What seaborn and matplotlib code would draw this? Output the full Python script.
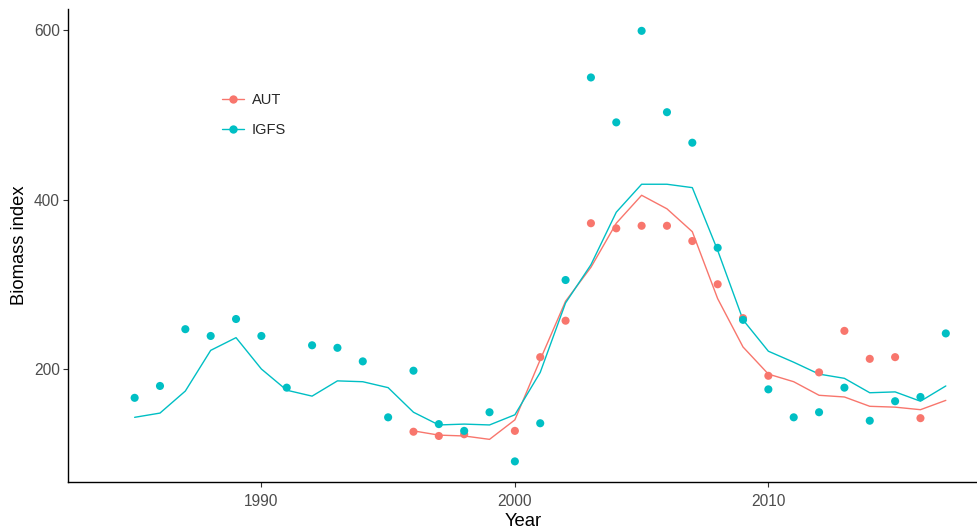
import numpy as np
import pandas as pd
import matplotlib
matplotlib.use("Agg")
import matplotlib.pyplot as plt
from matplotlib.lines import Line2D
import seaborn as sns

# Survey years
years = list(range(1985, 2018))

# IGFS (spring survey) observed biomass index and model fit
igfs_obs = [166, 180, 247, 239, 259, 239, 178, 228, 225, 209, 143, 198, 135, 127,
            149, 91, 136, 305, 544, 491, 599, 503, 467, 343, 258, 176, 143, 149,
            178, 139, 162, 167, 242]
igfs_fit = [143, 148, 174, 222, 237, 200, 175, 168, 186, 185, 178, 149, 134, 135,
            134, 146, 196, 278, 323, 385, 418, 418, 414, 340, 258, 221, 208, 194,
            189, 172, 173, 162, 180]

# AUT (autumn survey) starts in 1996; no survey in 2011, none shown for 2017
aut_years = list(range(1996, 2018))
aut_obs = [126, 121, 123, np.nan, 127, 214, 257, 372, 366, 369, 369, 351, 300, 260,
           192, np.nan, 196, 245, 212, 214, 142, np.nan]
aut_fit = [127, 122, 121, 117, 140, 211, 280, 320, 372, 405, 389, 362, 283, 226,
           194, 185, 169, 167, 156, 155, 152, 163]

surveys = ["AUT", "IGFS"]
palette = {"AUT": "#F8766D", "IGFS": "#00BFC4"}

df = pd.concat([
    pd.DataFrame({"Year": aut_years, "obs": aut_obs, "fit": aut_fit, "survey": "AUT"}),
    pd.DataFrame({"Year": years, "obs": igfs_obs, "fit": igfs_fit, "survey": "IGFS"}),
], ignore_index=True)

sns.set_style("white")
plt.rcParams["font.family"] = ["Liberation Sans", "DejaVu Sans"]

fig = plt.figure(figsize=(9.78, 5.31), dpi=100)
ax = fig.add_axes([0.0695, 0.0923, 0.9305, 0.8908])

sns.lineplot(data=df, x="Year", y="fit", hue="survey", hue_order=surveys,
             palette=palette, linewidth=1.0, legend=False, ax=ax, zorder=2)
sns.scatterplot(data=df.dropna(subset=["obs"]), x="Year", y="obs", hue="survey",
                hue_order=surveys, palette=palette, s=34, linewidth=0,
                legend=False, ax=ax, zorder=3)

ax.set_xlim(1982.37, 2018.27)
ax.set_ylim(66.7, 624.8)
ax.set_xticks([1990, 2000, 2010])
ax.set_yticks([200, 400, 600])
ax.set_xlabel("Year", fontsize=13.3, color="black", labelpad=3)
ax.set_ylabel("Biomass index", fontsize=13.2, color="black", labelpad=4)
ax.tick_params(axis="both", bottom=True, left=True, labelcolor="#4D4D4D",
               color="#333333", labelsize=11.2, length=3.5, width=0.8,
               direction="out", pad=2.5)
ax.tick_params(axis="x", pad=5)

for side in ["top", "right"]:
    ax.spines[side].set_visible(False)
for side in ["left", "bottom"]:
    ax.spines[side].set_color("black")
    ax.spines[side].set_linewidth(1.0)

handles = [Line2D([0], [0], color=palette[s], lw=1.0, marker="o", markersize=6,
                  markeredgewidth=0) for s in surveys]
ax.legend(handles, surveys, loc="center left", bbox_to_anchor=(0.155, 0.776),
          frameon=False, fontsize=10.5, handlelength=1.5, handletextpad=0.55,
          labelspacing=1.1)

fig.savefig("out.png", dpi=100)
